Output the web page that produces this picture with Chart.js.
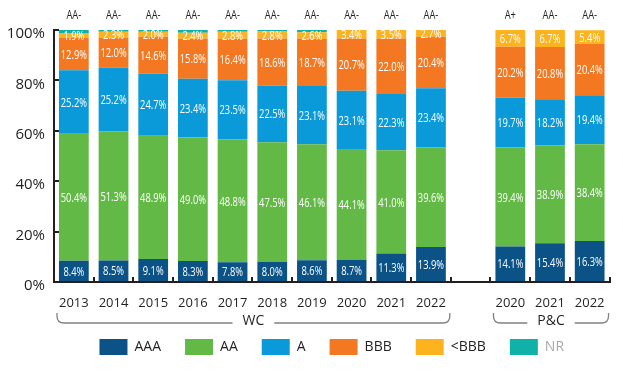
<!DOCTYPE html>
<html lang="en">
<head>
    <meta charset="UTF-8">
    <title>Rating distribution WC / P&amp;C</title>
    <style>
        html, body { margin: 0; padding: 0; background: #fff; }
        canvas { display: block; }
    </style>
</head>
<body>
    <canvas id="ratingChart" width="623" height="371"></canvas>

    <script src="https://cdn.jsdelivr.net/npm/chart.js"></script>
    <script>
        // categories (empty one is the gap between WC and P&C)
        const categories = ['2013', '2014', '2015', '2016', '2017', '2018', '2019', '2020', '2021', '2022', '', '2020', '2021', '2022'];

        // share of portfolio by rating, in %
        const aaa      = [8.4, 8.5, 9.1, 8.3, 7.8, 8.0, 8.6, 8.7, 11.3, 13.9, null, 14.1, 15.4, 16.3];
        const aa       = [50.4, 51.3, 48.9, 49.0, 48.8, 47.5, 46.1, 44.1, 41.0, 39.6, null, 39.4, 38.9, 38.4];
        const singleA  = [25.2, 25.2, 24.7, 23.4, 23.5, 22.5, 23.1, 23.1, 22.3, 23.4, null, 19.7, 18.2, 19.4];
        const bbb      = [12.9, 12.0, 14.6, 15.8, 16.4, 18.6, 18.7, 20.7, 22.0, 20.4, null, 20.2, 20.8, 20.4];
        const belowBbb = [1.9, 2.3, 2.0, 2.4, 2.8, 2.8, 2.6, 3.4, 3.5, 2.7, null, 6.7, 6.7, 5.4];
        const nr       = [1.2, 0.7, 0.7, 1.1, 0.7, 0.6, 0.9, 0, 0, 0, null, 0, 0, 0];

        // average rating shown above each bar
        const avgRatings = ['AA-', 'AA-', 'AA-', 'AA-', 'AA-', 'AA-', 'AA-', 'AA-', 'AA-', 'AA-', '', 'A+', 'AA-', 'AA-'];

        const yTicks = [0, 20, 40, 60, 80, 100];

        const groups = [
            { label: 'WC', from: 0, to: 9 },
            { label: 'P&C', from: 11, to: 13 }
        ];

        const textColor = '#231f20';

        // draws the % values inside the segments and the rating above each bar
        const valueLabels = {
            id: 'valueLabels',
            afterDatasetsDraw(chart) {
                const ctx = chart.ctx;
                ctx.save();
                ctx.textAlign = 'center';
                ctx.textBaseline = 'middle';
                chart.data.datasets.forEach((ds, i) => {
                    if (!ds.showValues) return;
                    const meta = chart.getDatasetMeta(i);
                    meta.data.forEach((bar, j) => {
                        const v = ds.data[j];
                        if (v === null || v === 0) return;
                        const yMid = (bar.y + bar.base) / 2;
                        ctx.save();
                        ctx.translate(bar.x, yMid);
                        ctx.scale(0.72, 1);
                        ctx.font = "13px 'Open Sans', sans-serif";
                        ctx.fillStyle = '#ffffff';
                        ctx.fillText(v.toFixed(1) + '%', 0, 1);
                        ctx.restore();
                    });
                });

                // ratings on top
                const xScale = chart.scales.x;
                const top = chart.chartArea.top;
                avgRatings.forEach((r, j) => {
                    if (!r) return;
                    ctx.save();
                    ctx.translate(xScale.getPixelForTick(j), top - 14);
                    ctx.scale(0.78, 1);
                    ctx.font = "12px 'Open Sans', sans-serif";
                    ctx.fillStyle = textColor;
                    ctx.fillText(r, 0, 0);
                    ctx.restore();
                });
                ctx.restore();
            }
        };

        // WC / P&C brackets below the year labels
        const groupBrackets = {
            id: 'groupBrackets',
            afterDraw(chart) {
                const ctx = chart.ctx;
                const x = chart.scales.x;
                const half = (x.getPixelForTick(1) - x.getPixelForTick(0)) / 2;
                const yTop = x.bottom - 2;
                const yLine = x.bottom + 8;
                const r = 7;
                ctx.save();
                ctx.font = "14px 'Open Sans', sans-serif";
                ctx.textAlign = 'center';
                ctx.textBaseline = 'middle';
                groups.forEach(g => {
                    const left = x.getPixelForTick(g.from) - half + 3;
                    const right = x.getPixelForTick(g.to) + half - 1;
                    const mid = (left + right) / 2;
                    const tw = ctx.measureText(g.label).width;
                    ctx.strokeStyle = '#808080';
                    ctx.lineWidth = 1.3;
                    ctx.beginPath();
                    ctx.moveTo(left, yTop);
                    ctx.lineTo(left, yLine - r);
                    ctx.quadraticCurveTo(left, yLine, left + r, yLine);
                    ctx.lineTo(mid - tw / 2 - 10, yLine);
                    ctx.moveTo(mid + tw / 2 + 10, yLine);
                    ctx.lineTo(right - r, yLine);
                    ctx.quadraticCurveTo(right, yLine, right, yLine - r);
                    ctx.lineTo(right, yTop);
                    ctx.stroke();
                    ctx.fillStyle = textColor;
                    ctx.fillText(g.label, mid, yLine - 2);
                });
                ctx.restore();
            }
        };

        function renderChart() {
            const ctx = document.getElementById('ratingChart').getContext('2d');
            Chart.defaults.font.family = "'Open Sans', sans-serif";
            Chart.defaults.color = textColor;

            new Chart(ctx, {
                type: 'bar',
                data: {
                    labels: categories,
                    datasets: [
                        { label: 'AAA', data: aaa, backgroundColor: '#0b5287', showValues: true },
                        { label: 'AA', data: aa, backgroundColor: '#63b946', showValues: true },
                        { label: 'A', data: singleA, backgroundColor: '#0a9ad9', showValues: true },
                        { label: 'BBB', data: bbb, backgroundColor: '#f47821', showValues: true },
                        { label: '<BBB', data: belowBbb, backgroundColor: '#fdb31e', showValues: true },
                        { label: 'NR', data: nr, backgroundColor: '#10b1a8', showValues: false }
                    ]
                },
                options: {
                    responsive: false,
                    animation: false,
                    datasets: {
                        bar: { barPercentage: 0.75, categoryPercentage: 1, borderWidth: 0 }
                    },
                    layout: {
                        padding: { top: 30, left: 0, right: 13, bottom: 6 }
                    },
                    scales: {
                        x: {
                            stacked: true,
                            offset: true,
                            grid: { drawOnChartArea: false, tickLength: -5, color: textColor, lineWidth: 2 },
                            border: { color: textColor, width: 2 },
                            ticks: { font: { size: 13 }, padding: 18, maxRotation: 0, autoSkip: false },
                            afterFit(scale) { scale.height = 33; }
                        },
                        y: {
                            stacked: true,
                            min: 0,
                            max: 100,
                            afterBuildTicks(scale) { scale.ticks = yTicks.map(v => ({ value: v })); },
                            grid: { drawOnChartArea: false, tickLength: -5, color: textColor, lineWidth: 2 },
                            border: { color: textColor, width: 2 },
                            ticks: {
                                font: { size: 15 },
                                padding: 14,
                                labelOffset: 4,
                                callback: v => v + '%'
                            },
                            afterFit(scale) { scale.width = 54; }
                        }
                    },
                    plugins: {
                        tooltip: { enabled: false },
                        legend: {
                            position: 'bottom',
                            fullSize: false,
                            labels: {
                                boxWidth: 28,
                                boxHeight: 16,
                                padding: 24,
                                font: { size: 14 },
                                generateLabels(chart) {
                                    const items = Chart.defaults.plugins.legend.labels.generateLabels(chart);
                                    items.forEach(it => {
                                        it.fontColor = it.text === 'NR' ? '#a7a9ac' : textColor;
                                        it.lineWidth = 0;
                                    });
                                    return items;
                                }
                            }
                        }
                    }
                },
                plugins: [valueLabels, groupBrackets]
            });
        }

        window.onload = renderChart;
    </script>
</body>
</html>
